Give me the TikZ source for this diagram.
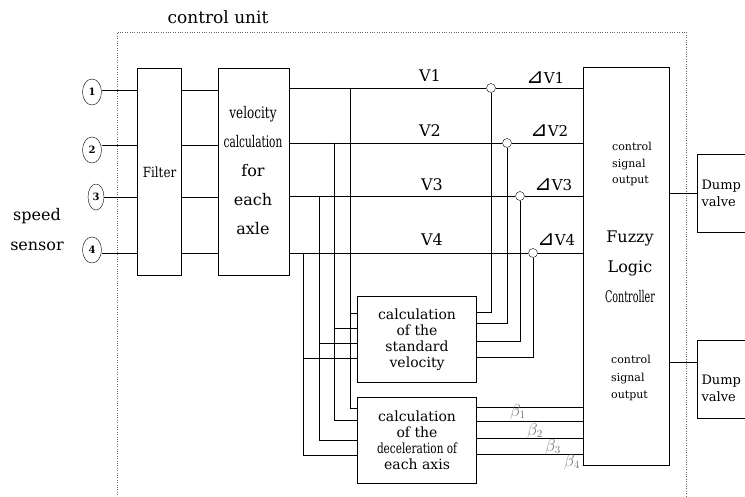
\documentclass[tikz,border=0pt]{standalone}
\usepackage{fontspec}
\setmainfont{DejaVu Serif}
\newfontfamily\symfont{DejaVu Sans}
\usetikzlibrary{shapes.geometric}

\begin{document}
\begin{tikzpicture}[x=1pt,y=-1pt,every node/.style={font=\fontsize{14}{16}\selectfont},
 blk/.style={draw,line width=1.1pt,anchor=north west,inner sep=0pt},
 sens/.style={draw,ellipse,minimum width=19pt,minimum height=26pt,inner sep=0pt,font=\fontsize{10}{12}\selectfont\bfseries},
 jn/.style={draw,circle,fill=white,minimum size=9pt,inner sep=0pt},
 vlab/.style={font=\fontsize{16}{18}\selectfont},
 dvlab/.style={anchor=west,inner sep=0pt,font=\fontsize{15}{17}\selectfont},
 beta/.style={text=black!55,font=\fontsize{16}{18}\selectfont}]
\useasboundingbox (0,0) rectangle (745,497);
% control unit frame
\draw[dotted,black!60] (117,497)--(117,32)--(686,32)--(686,497);
\node[font=\fontsize{17}{19}\selectfont] (cu) at (218,17){control unit};
\node[align=center,font=\fontsize{16}{30}\selectfont] (ss) at (37,230){speed\\sensor};
% sensors
\node[sens](s1) at (92,92){1};\node[sens](s2) at (92,150){2};\node[sens,minimum width=16pt](s3) at (96,197){3};\node[sens](s4) at (92,250){4};
% blocks
\node[blk,minimum width=44pt,minimum height=207pt](f) at (137,68){};\node at (f.center){\scalebox{.85}[1]{Filter}};
\node[blk,minimum width=71pt,minimum height=207pt](v) at (218,68){};
\node[align=center,font=\fontsize{16}{29}\selectfont] at (253,171){\scalebox{.75}[1]{velocity}\\\scalebox{.66}[1]{calculation}\\for\\each\\axle};
\node[blk,minimum width=119pt,minimum height=86pt](std) at (357,296){};\node[align=center] at (std.center){calculation\\of the\\standard\\velocity};
\node[blk,minimum width=119pt,minimum height=86pt](dec) at (357,397){};\node[align=center] at (dec.center){calculation\\of the\\\scalebox{.75}[1]{deceleration of}\\each axis};
\node[blk,minimum width=86pt,minimum height=398pt](flc) at (583,67){};
\node[align=left,font=\fontsize{11}{16.5}\selectfont] at (632,164){control\\signal\\output};
\node[align=center,font=\fontsize{16}{30}\selectfont] at (630,267){Fuzzy\\Logic\\\scalebox{.6}[1]{Controller}};
\node[align=left,font=\fontsize{11}{17.5}\selectfont] at (631,378){control\\signal\\output};
\node[blk,minimum width=60pt,minimum height=78pt](d1) at (697,154){};\node[align=left,anchor=west,font=\fontsize{13}{17}\selectfont] at (698,193){Dump\\valve};
\node[blk,minimum width=60pt,minimum height=78pt](d2) at (697,340){};\node[align=left,anchor=west,font=\fontsize{13}{17}\selectfont] at (698,388){Dump\\valve};
% sensor lines and filter outputs
\foreach \i/\y in {1/90,2/145,3/197,4/253}{\draw (s\i.east |- 0,\y) -- (f.west |- 0,\y);\draw (f.east |- 0,\y) -- (v.west |- 0,\y);}
% velocity lines
\node[jn](j1) at (491,88){};\node[jn](j2) at (507,143){};\node[jn](j3) at (520,196){};\node[jn](j4) at (533,253){};
\node[vlab] (v1) at (430,76){V1};\node[vlab] (v2) at (430,131){V2};\node[vlab] (v3) at (432,185){V3};\node[vlab] (v4) at (432,240){V4};
\foreach \i in {1,...,4}{\draw (j\i) -- (j\i -| v.east);\draw (j\i) -- (j\i -| flc.west);}
\node[dvlab] (dv1) at (526,78){{\symfont\scalebox{1.4}{⊿}}V1};\node[dvlab] (dv2) at (530,131){{\symfont\scalebox{1.4}{⊿}}V2};
\node[dvlab] (dv3) at (534,185){{\symfont\scalebox{1.4}{⊿}}V3};\node[dvlab] (dv4) at (537,240){{\symfont\scalebox{1.4}{⊿}}V4};
% feed to standard velocity (right side)
\foreach \i/\y in {1/312,2/323,3/341,4/357}{\coordinate (r\i) at (j\i |- 0,\y);\draw (j\i) -- (r\i) -- (r\i -| std.east);}
% feed to both calculation blocks (left side)
\foreach \i/\x/\a/\b in {1/350/313/408,2/334/328/420,3/319/343/440,4/303/358/455}{
\coordinate (t\i) at (\x,0 |- j\i);\coordinate (m\i) at (\x,\a);\coordinate (b\i) at (\x,\b);
\draw (t\i) -- (b\i) -- (b\i -| dec.west);\draw (m\i) -- (m\i -| std.west);}
% deceleration outputs
\foreach \i/\y in {1/407,2/421,3/438,4/454}{\draw (dec.east |- 0,\y) -- (flc.west |- 0,\y);}
\node[beta] at (518,412){$\beta_1$};\node[beta] at (535,431){$\beta_2$};\node[beta] at (553,447){$\beta_3$};\node[beta] at (572,462){$\beta_4$};
% outputs to valves
\draw (flc.east |- d1.west) -- (d1.west);\draw (flc.east |- 0,362) -- (d2.west |- 0,362);
\end{tikzpicture}
\end{document}
